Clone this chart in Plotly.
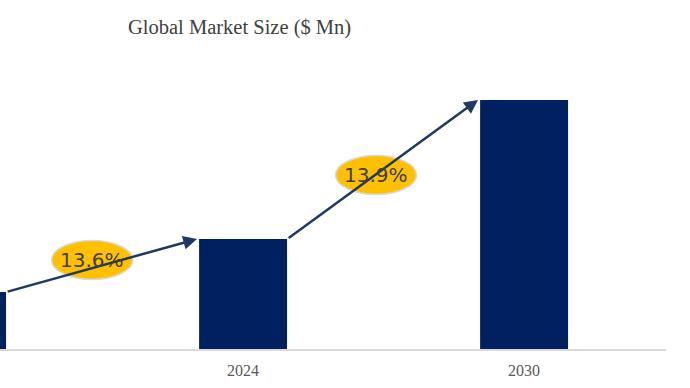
import plotly.graph_objects as go

years = ["2019", "2024", "2030"]
market_size = [57, 110, 249]
cagr_labels = ["13.6%", "13.9%"]

bar_color = "#002060"
arrow_color = "#1F3864"
half_w = 0.157

fig = go.Figure()
fig.add_trace(go.Bar(
    x=[0, 1, 2], y=market_size, width=0.313,
    marker=dict(color=bar_color, line=dict(width=0)),
    hoverinfo="skip",
))

# arrows between bars
fig.add_annotation(x=1 - half_w - 0.007, y=market_size[1], ax=0 + half_w, ay=market_size[0],
                   xref="x", yref="y", axref="x", ayref="y", text="", showarrow=True,
                   arrowhead=2, arrowsize=1.1, arrowwidth=2.5, arrowcolor=arrow_color)
fig.add_annotation(x=2 - half_w - 0.007, y=market_size[2], ax=1 + half_w, ay=market_size[1],
                   xref="x", yref="y", axref="x", ayref="y", text="", showarrow=True,
                   arrowhead=2, arrowsize=1.1, arrowwidth=2.5, arrowcolor=arrow_color)

# CAGR ellipses
ellipses = [(0.463, 89), (1.473, 174)]
for (cx, cy), lab in zip(ellipses, cagr_labels):
    fig.add_shape(type="circle", xref="x", yref="y",
                  x0=cx - 0.144, x1=cx + 0.144, y0=cy - 19.5, y1=cy + 19.5,
                  fillcolor="#FFC000", line=dict(color="#D9D9D9", width=1.5))
    fig.add_annotation(x=cx, y=cy, xref="x", yref="y", text=lab, showarrow=False,
                       font=dict(family="Comic Sans MS, DejaVu Sans", size=20, color="#404040"))

fig.add_annotation(x=239 / 666, y=1 + (60 - 27) / 289, xref="paper", yref="paper",
                   xanchor="center", yanchor="middle", text="Global Market Size ($ Mn)",
                   showarrow=False, font=dict(family="Liberation Serif, Times New Roman", size=20.5, color="#404040"))

fig.update_layout(
    width=690, height=388,
    margin=dict(l=0, r=24, t=60, b=39),
    paper_bgcolor="white", plot_bgcolor="white",
    showlegend=False,
    xaxis=dict(range=[0.135, 2.505], tickmode="array", tickvals=[0, 1, 2], ticktext=years,
               showline=True, linecolor="#D9D9D9", linewidth=1.5, showgrid=False, zeroline=False,
               ticks="", ticklabelstandoff=6,
               tickfont=dict(family="Liberation Serif, Times New Roman", size=16, color="#595959")),
    yaxis=dict(range=[0, 289], visible=False, showgrid=False, zeroline=False),
)

fig.write_html("out.html", config={"displayModeBar": False},
               post_script="document.body.style.margin='0';document.body.style.overflow='hidden';")
